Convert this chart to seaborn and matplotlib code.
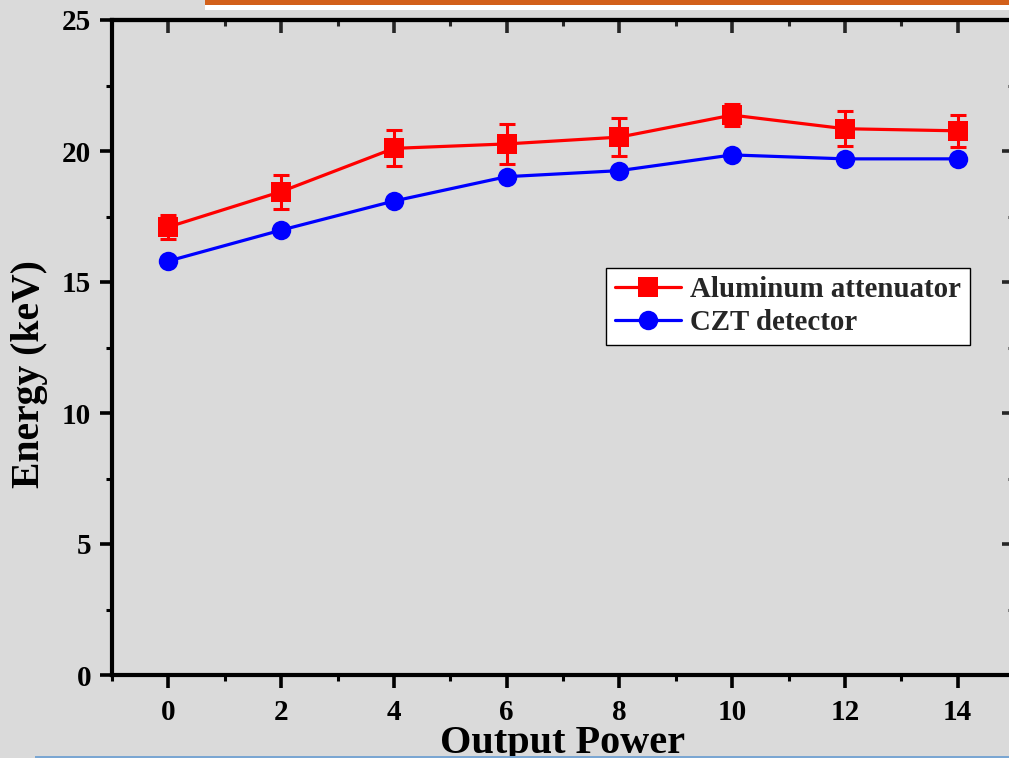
import matplotlib
matplotlib.use("Agg")
import matplotlib.pyplot as plt
from matplotlib.ticker import MultipleLocator
from matplotlib.patches import Rectangle
import seaborn as sns
import pandas as pd

# ---- data ----
power = [0, 2, 4, 6, 8, 10, 12, 14]
aluminum = [17.1, 18.45, 20.1, 20.27, 20.53, 21.37, 20.85, 20.77]
aluminum_err = [0.45, 0.65, 0.69, 0.76, 0.72, 0.42, 0.67, 0.61]
czt = [15.8, 16.98, 18.09, 19.02, 19.25, 19.85, 19.7, 19.7]
series_names = ["Aluminum attenuator", "CZT detector"]
x_ticks = [0, 2, 4, 6, 8, 10, 12, 14]
y_ticks = [0, 5, 10, 15, 20, 25]

df = pd.DataFrame({
    "power": power + power,
    "energy": aluminum + czt,
    "series": [series_names[0]] * len(power) + [series_names[1]] * len(power),
})

sns.set_theme(style="ticks")
plt.rcParams["font.family"] = ["Liberation Serif", "DejaVu Serif"]
plt.rcParams["font.weight"] = "bold"

bg = "#dadada"
fig = plt.figure(figsize=(10.09, 7.58), dpi=100, facecolor=bg)
ax = fig.add_axes([112 / 1009, 83 / 758, 902 / 1009, 655 / 758])
ax.set_facecolor(bg)

ax.errorbar(power, aluminum, yerr=aluminum_err, fmt="none", ecolor="#ff0000",
            elinewidth=2.2, capsize=5.5, capthick=2.2, zorder=3)

sns.lineplot(data=df, x="power", y="energy", hue="series", style="series",
             palette={series_names[0]: "#ff0000", series_names[1]: "#0000ff"},
             markers={series_names[0]: "s", series_names[1]: "o"},
             dashes=False, markersize=14, markeredgewidth=0, linewidth=2.3,
             ax=ax, zorder=4)

handles, labels = ax.get_legend_handles_labels()
leg = ax.legend(handles, labels, loc="upper left", bbox_to_anchor=(0.548, 0.622),
                borderaxespad=0, frameon=True, fancybox=False, framealpha=1,
                edgecolor="black", facecolor="white",
                prop={"family": "Liberation Serif", "weight": "bold", "size": 20.8},
                handlelength=2.3, handletextpad=0.3, borderpad=0.3, labelspacing=0.2)
leg.get_frame().set_linewidth(1.0)

ax.set_xlim(-1, 15)
ax.set_ylim(0, 25)
ax.set_xticks(x_ticks)
ax.set_yticks(y_ticks)
ax.xaxis.set_minor_locator(MultipleLocator(1))
ax.yaxis.set_minor_locator(MultipleLocator(2.5))

for s in ax.spines.values():
    s.set_linewidth(3)
    s.set_color("black")

ax.tick_params(axis="both", which="major", direction="out", length=9, width=2.6,
               labelsize=21, color="black", labelcolor="black")
ax.tick_params(axis="both", which="minor", direction="out", length=4, width=2.2, color="black")
ax.tick_params(axis="x", which="major", pad=8)
ax.tick_params(axis="y", which="major", pad=6)

for lab in ax.get_xticklabels() + ax.get_yticklabels():
    lab.set_fontweight("bold")

# inward ticks on top and right (Origin style)
top = ax.secondary_xaxis("top")
top.set_xticks(x_ticks)
top.xaxis.set_minor_locator(MultipleLocator(1))
top.tick_params(which="major", direction="in", length=9, width=2.6, labeltop=False)
top.tick_params(which="minor", direction="in", length=4, width=2.2)
top.spines["top"].set_linewidth(3)
right = ax.secondary_yaxis("right")
right.set_yticks(y_ticks)
right.yaxis.set_minor_locator(MultipleLocator(2.5))
right.tick_params(which="major", direction="in", length=9, width=2.6, labelright=False)
right.tick_params(which="minor", direction="in", length=4, width=2.2)

ax.set_xlabel("Output Power", fontsize=29, fontweight="bold", color="black")
ax.set_ylabel("Energy (keV)", fontsize=28.5, fontweight="bold", color="black")
ax.xaxis.set_label_coords(0.5, -0.077)
ax.yaxis.set_label_coords(-0.071, 0.46)

# decorative slide elements
fig.patches.append(Rectangle((205 / 1009, 1 - 10 / 758), 1, 10 / 758, transform=fig.transFigure,
                             facecolor="white", edgecolor="none", zorder=0))
fig.patches.append(Rectangle((205 / 1009, 1 - 5 / 758), 1, 5 / 758, transform=fig.transFigure,
                             facecolor="#d2601a", edgecolor="none", zorder=1))
fig.patches.append(Rectangle((35 / 1009, 0), 1, 2.5 / 758, transform=fig.transFigure,
                             facecolor="#7aa6d2", edgecolor="none", zorder=1))

fig.savefig("out.png", dpi=100, facecolor=bg)
